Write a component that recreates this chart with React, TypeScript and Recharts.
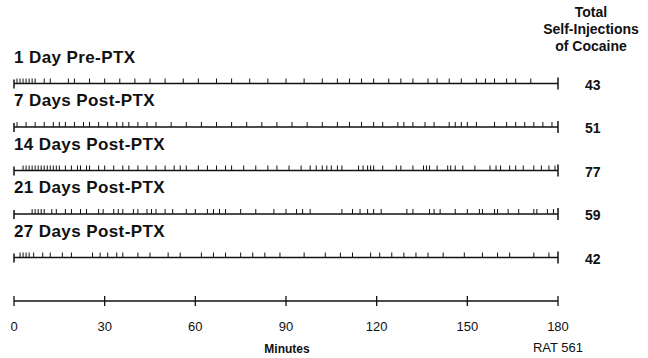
import { ScatterChart, Scatter, XAxis, YAxis, ReferenceLine } from 'recharts';

// row labels, totals and the y slot of each session (top row = 5)
const SESSIONS = ['1 Day Pre-PTX', '7 Days Post-PTX', '14 Days Post-PTX', '21 Days Post-PTX', '27 Days Post-PTX'];
const TOTALS = [43, 51, 77, 59, 42];
const ROW_Y = [5, 4, 3, 2, 1];
const MINUTE_TICKS = [0, 30, 60, 90, 120, 150, 180];

// injection times (minutes)
const DAY1_PRE = [1, 2, 3, 4, 5, 6, 7, 10, 12, 18, 20, 25, 30, 35, 40, 45, 50, 56, 61, 67, 72, 78, 84, 90, 96,
  102, 107, 111, 115, 119, 124, 128, 132, 137, 140, 144, 148, 153, 156, 159, 163, 166, 171];
const DAY7_POST = [1, 4, 7, 10, 13, 15, 17, 20, 23, 25, 28, 31, 34, 36, 38, 41, 44, 47, 52, 57, 62, 67, 72, 77, 82, 87, 92, 97,
  102, 107, 111, 115, 119, 122, 127, 129, 132, 136, 139, 144, 146, 148, 150, 153, 159, 163, 166, 169, 172, 175, 178];
const DAY14_POST = [3, 4, 5, 6, 7, 8, 9, 10, 11, 12, 13, 14, 15, 17, 19, 21, 22, 24, 25, 28, 30, 33, 36, 38, 41, 44,
  47, 50, 53, 55, 57, 61, 64, 67, 70, 72, 76, 80, 84, 87, 91, 95, 98, 100,
  102, 103.5, 105, 107, 108.5, 114, 115.5, 117, 118, 119, 122, 126.5, 128, 132, 135.5, 136.5, 137.5, 140, 143.5, 144.5,
  146, 148.5, 152.5, 157.5, 159.5, 161, 164, 166, 168.5, 172, 174.5, 177, 179];
const DAY21_POST = [6, 7, 8, 9, 10, 12.5, 14, 17, 19, 22, 24, 28, 29.5, 33, 34.5, 36, 39.5, 41, 44, 45.5, 47, 50, 52.5,
  57, 60, 64, 66, 68, 70, 75, 80, 86, 90, 93.5, 95.5, 98,
  108.5, 112, 114.5, 117, 119, 121.5, 130, 132, 137.5, 139, 141, 146, 150, 154, 155, 159, 160, 163.5, 167, 172, 173, 176.5, 178.5];
const DAY27_POST = [2, 3, 4, 5, 6.5, 9.5, 12, 16, 19, 26, 28.5, 31, 34, 36, 41, 45, 51, 55, 62, 66, 70, 75, 79, 83, 88, 96,
  103, 108, 112, 118, 121, 125, 129, 133, 137, 142, 149, 155, 160, 164, 172, 177];

const EVENTS = [DAY1_PRE, DAY7_POST, DAY14_POST, DAY21_POST, DAY27_POST];

const FONT = '"Liberation Sans", Arial, sans-serif';
const INK = '#111';

const eventPoints = EVENTS.flatMap((times, i) => times.map((t) => ({ x: t, y: ROW_Y[i] })));
const startCaps = ROW_Y.map((y, i) => ({ x: 0, y, label: SESSIONS[i] }));
const endCaps = ROW_Y.map((y, i) => ({ x: 180, y, total: TOTALS[i] }));

const EventTick = (props: any) => {
  const { cx, cy } = props;
  return <line x1={cx} y1={cy} x2={cx} y2={cy - 5} stroke={INK} strokeWidth={1} />;
};

const StartCap = (props: any) => {
  const { cx, cy, payload } = props;
  return (
    <g>
      <line x1={cx} y1={cy - 4} x2={cx} y2={cy + 5} stroke={INK} strokeWidth={1.5} />
      <text x={cx} y={cy - 21} fontFamily={FONT} fontWeight="bold" fontSize={17} letterSpacing={0.4} fill={INK}>
        {payload.label}
      </text>
    </g>
  );
};

const EndCap = (props: any) => {
  const { cx, cy, payload } = props;
  return (
    <g>
      <line x1={cx} y1={cy - 6} x2={cx} y2={cy + 6} stroke={INK} strokeWidth={1.5} />
      <text x={cx + 27} y={cy + 6} fontFamily={FONT} fontWeight="bold" fontSize={14} fill={INK}>
        {payload.total}
      </text>
    </g>
  );
};

const MinuteTick = (props: any) => {
  const { x, y, payload } = props;
  return (
    <g>
      <line x1={x} y1={y - 5} x2={x} y2={y + 5} stroke={INK} strokeWidth={1.3} />
      <text x={x} y={y + 30} textAnchor="middle" fontFamily={FONT} fontSize={13} fill={INK}>
        {payload.value}
      </text>
    </g>
  );
};

export default function App() {
  return (
    <div style={{ position: 'absolute', left: 0, top: 0, width: 648, height: 358, background: '#fff' }}>
      <ScatterChart width={648} height={358} margin={{ top: 40, right: 90, bottom: 0, left: 14 }}>
        <XAxis
          type="number"
          dataKey="x"
          domain={[0, 180]}
          ticks={MINUTE_TICKS}
          interval={0}
          tickSize={0}
          tickMargin={0}
          tickLine={false}
          axisLine={{ stroke: INK, strokeWidth: 1.3 }}
          tick={<MinuteTick />}
          height={57}
        />
        <YAxis type="number" dataKey="y" domain={[0, 6]} hide />
        {ROW_Y.map((y) => (
          <ReferenceLine key={y} y={y} stroke={INK} strokeWidth={1.4} />
        ))}
        <Scatter data={eventPoints} shape={<EventTick />} isAnimationActive={false} />
        <Scatter data={startCaps} shape={<StartCap />} isAnimationActive={false} />
        <Scatter data={endCaps} shape={<EndCap />} isAnimationActive={false} />
      </ScatterChart>
      <div style={{ position: 'absolute', left: 535, top: 4, width: 112, textAlign: 'center', fontFamily: FONT, fontWeight: 'bold', fontSize: 14, lineHeight: '17px', color: INK }}>
        Total<br />Self-Injections<br />of Cocaine
      </div>
      <div style={{ position: 'absolute', left: 287, top: 342, transform: 'translateX(-50%)', fontFamily: FONT, fontWeight: 'bold', fontSize: 12, color: INK }}>
        Minutes
      </div>
      <div style={{ position: 'absolute', left: 558, top: 340, transform: 'translateX(-50%)', fontFamily: FONT, fontSize: 13, color: INK, whiteSpace: 'nowrap' }}>
        RAT 561
      </div>
    </div>
  );
}
